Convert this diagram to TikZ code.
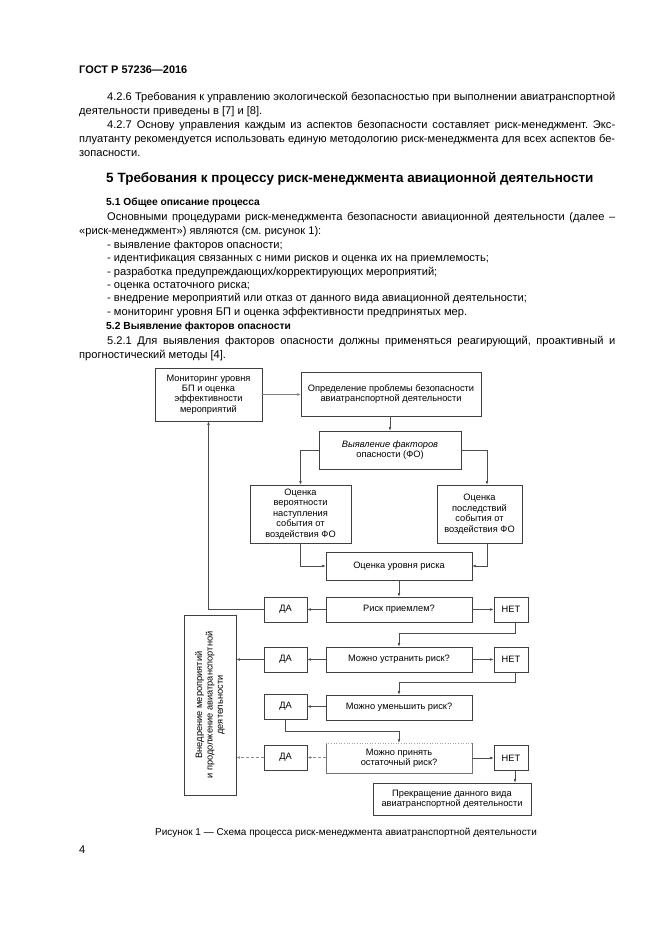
\documentclass[tikz,border=0pt]{standalone}
\usepackage{fontspec}
\setmainfont{Liberation Sans}
\usetikzlibrary{arrows.meta,calc}
\frenchspacing
\begin{document}
\begin{tikzpicture}[x=1bp,y=-1bp,
  body/.style={anchor=base west,inner sep=0,font=\fontsize{11.15}{13}\selectfont},
  bodyb/.style={body,font=\fontsize{10.3}{12}\selectfont\bfseries},
  box/.style={draw=black!75,line width=0.6bp,align=center,inner sep=0,font=\fontsize{9.3}{10.5}\selectfont},
  boxtxt/.style={align=center,inner sep=0,font=\fontsize{9.3}{10.5}\selectfont},
  arr/.style={draw=black!70,line width=0.55bp,-{Latex[length=3.5bp,width=2.6bp]}},
  ln/.style={draw=black!70,line width=0.55bp},
  lite/.style={draw=black!45,line width=0.55bp,dashed,dash pattern=on 3bp off 2bp},
]
\useasboundingbox[fill=white] (0,0) rectangle (661,935);

% ---------- text ----------
\node[body,font=\fontsize{11}{13}\selectfont\bfseries] (hdr) at (79,73.5) {ГОСТ Р 57236—2016};
\node[body] (l1) at (107,100.5) {\makebox[508bp][s]{4.2.6 Требования к управлению экологической безопасностью при выполнении авиатранспортной}};
\node[body] (l2) at (79,114.5) {деятельности приведены в [7] и [8].};
\node[body] (l3) at (107,128.5) {\makebox[508bp][s]{4.2.7 Основу управления каждым из аспектов безопасности составляет риск-менеджмент. Экс-}};
\node[body] (l4) at (79,142.5) {\makebox[536bp][s]{плуатанту рекомендуется использовать единую методологию риск-менеджмента для всех аспектов бе-}};
\node[body] (l5) at (79,156.5) {зопасности.};
\node[body,font=\fontsize{13.5}{15}\selectfont\bfseries] (h5) at (106,182.5) {5\hspace{4bp}Требования к процессу риск-менеджмента авиационной деятельности};
\node[bodyb] (h51) at (106,205.5) {5.1\hspace{3bp}Общее описание процесса};
\node[body] (l6) at (107,220.5) {\makebox[508bp][s]{Основными процедурами риск-менеджмента безопасности авиационной деятельности (далее –}};
\node[body] (l7) at (79,234.5) {«риск-менеджмент») являются (см. рисунок 1):};
\node[body] (i1) at (107,248.5) {- выявление факторов опасности;};
\node[body] (i2) at (107,261.8) {- идентификация связанных с ними рисков и оценка их на приемлемость;};
\node[body] (i3) at (107,275.1) {- разработка предупреждающих/корректирующих мероприятий;};
\node[body] (i4) at (107,288.4) {- оценка остаточного риска;};
\node[body] (i5) at (107,301.7) {- внедрение мероприятий или отказ от данного вида авиационной деятельности;};
\node[body] (i6) at (107,315) {- мониторинг уровня БП и оценка эффективности предпринятых мер.};
\node[bodyb] (h52) at (106,329.5) {5.2\hspace{3bp}Выявление факторов опасности};
\node[body] (l8) at (107,344.5) {\makebox[508bp][s]{5.2.1 Для выявления факторов опасности должны применяться реагирующий, проактивный и}};
\node[body] (l9) at (79,358.5) {прогностический методы [4].};
\node[body,anchor=base,font=\fontsize{10}{12}\selectfont] (cap) at (346,835) {Рисунок 1 — Схема процесса риск-менеджмента авиатранспортной деятельности};
\node[body] (pg) at (79,853) {4};

% ---------- flowchart boxes ----------
\node[box,minimum width=107bp,minimum height=53bp] (mon) at (208.5,394.5) {Мониторинг уровня\\БП и оценка\\эффективности\\мероприятий};
\node[box,minimum width=180bp,minimum height=44bp] (opr) at (391,394) {Определение проблемы безопасности\\авиатранспортной деятельности};
\node[box,minimum width=142bp,minimum height=38bp] (vyy) at (390,450) {\textit{Выявление факторов}\\опасности (ФО)};
\node[box,minimum width=101bp,minimum height=58bp] (ver) at (300.5,514) {Оценка\\вероятности\\наступления\\события от\\воздействия ФО};
\node[box,minimum width=85bp,minimum height=58bp] (pos) at (479.5,514) {Оценка\\последствий\\события от\\воздействия ФО};
\node[box,minimum width=146bp,minimum height=28bp] (our) at (399,566) {Оценка уровня риска};

\node[box,minimum width=146bp,minimum height=25bp] (q1) at (399,609.5) {Риск приемлем?};
\node[box,minimum width=43bp,minimum height=25bp] (da1) at (285.5,609.5) {ДА};
\node[box,minimum width=34bp,minimum height=25bp] (net1) at (511,609.5) {НЕТ};

\node[box,minimum width=146bp,minimum height=25bp] (q2) at (399,659.5) {Можно устранить риск?};
\node[box,minimum width=43bp,minimum height=25bp] (da2) at (285.5,659.5) {ДА};
\node[box,minimum width=34bp,minimum height=25bp] (net2) at (511,659.5) {НЕТ};

\node[box,minimum width=146bp,minimum height=25bp] (q3) at (399,707.5) {Можно уменьшить риск?};
\node[box,minimum width=43bp,minimum height=25bp] (da3) at (285.5,706.5) {ДА};

\node[boxtxt,minimum width=146bp,minimum height=30bp] (q4) at (399,758) {Можно принять\\остаточный риск?};
\draw[draw=black!55,line width=0.6bp] (q4.north west) -- (q4.south west) -- (q4.south east) -- (q4.north east);
\draw[draw=black!35,line width=0.6bp,dotted] (q4.north west) -- (q4.north east);
\node[box,minimum width=43bp,minimum height=25bp] (da4) at (285.5,757.5) {ДА};
\node[box,minimum width=34bp,minimum height=25bp] (net4) at (511,758) {НЕТ};
\node[box,minimum width=158bp,minimum height=32bp] (prek) at (452,799) {Прекращение данного вида\\авиатранспортной деятельности};

\node[box,minimum width=52bp,minimum height=180bp] (vned) at (210,705) {};
\node[boxtxt,rotate=90] (vnedt) at (vned.center) {Внедрение мероприятий\\и продолжение авиатранспортной\\деятельности};

% ---------- connectors ----------
\draw[arr,draw=black!50] (mon.east) -- (mon.east -| opr.west);
\draw[arr] (opr.south -| vyy.north) -- (vyy.north);
\draw[arr] (vyy.west) -| (ver.north);
\draw[arr] (vyy.east) -| ([xshift=7.5bp]pos.north);
\draw[arr] (ver.south) |- (our.west);
\draw[arr] ([xshift=7.5bp]pos.south) |- (our.east);
\draw[arr] (our.south) -- (q1.north);

\draw[arr] (q1.west) -- (da1.east);
\draw[arr] (q1.east) -- (net1.west);
\draw[arr] (da1.west) -| (mon.south);
\draw[arr] ([xshift=4bp]net1.south) -- ++(0,11) -| (q2.north);

\draw[arr] (q2.west) -- (da2.east);
\draw[arr] (q2.east) -- (net2.west);
\draw[arr] (da2.west) -- (da2.west -| vned.east);
\draw[arr] ([xshift=4bp]net2.south) -- ++(0,10) -| (q3.north);

\draw[arr] (q3.west |- da3.east) -- (da3.east);
\draw[arr] (da3.south) -- ++(0,12) -| (q4.north);

\draw[arr,lite] (q4.west |- da4.east) -- (da4.east);
\draw[arr,lite] (da4.west) -- (da4.west -| vned.east);
\draw[arr] (q4.east |- net4.west) -- (net4.west);
\draw[arr] ([xshift=4bp]net4.south) -- ([xshift=4bp]net4.south |- prek.north);
\end{tikzpicture}
\end{document}
